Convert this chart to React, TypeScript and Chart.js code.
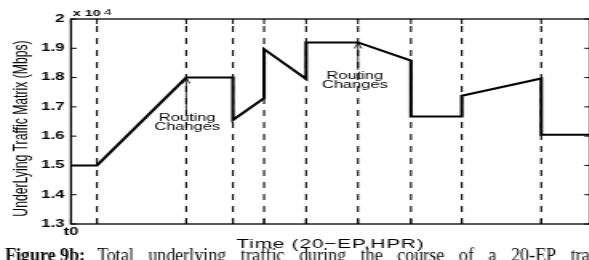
import React, { useEffect, useRef } from 'react';
import { Chart, registerables } from 'chart.js';

Chart.register(...registerables);

// The original figure is horizontally stretched; we draw it narrow and stretch it with CSS.
const STRETCH = 1.6;
const CANVAS_W = 372;
const CANVAS_H = 260;

// Times (arbitrary units, t0 = 0) at which events happen (dashed lines)
const eventTimes = [5.0, 22.2, 31.2, 37.2, 45.3, 55.3, 65.5, 75.3, 90.6];

// Underlying traffic matrix (x 10^4 Mbps)
const trafficTimes = [0, 5.0, 22.2, 31.2, 31.2, 37.2, 37.2, 45.3, 45.3, 55.3, 65.5, 65.5, 75.3, 75.3, 90.6, 90.6, 100];
const trafficValues = [1.5, 1.5, 1.8, 1.8, 1.655, 1.73, 1.897, 1.795, 1.92, 1.92, 1.858, 1.667, 1.667, 1.738, 1.797, 1.605, 1.605];

// "Routing Changes" annotations
const annotationTimes = [22.2, 55.3];
const annotationValues = [1.8, 1.92];
const annotationShaftEnds = [1.689, 1.826];
const annotationLine1Y = [1.652, 1.795];
const annotationLine2Y = [1.621, 1.764];
const annotationTextShift = [0.2, -0.6];
const annotationLines = ['Routing', 'Changes'];

const xMin = 0;
const xMax = 100;
const yMin = 1.3;
const yMax = 2.0;
const yStep = 0.1;

const xStartLabel = 't0';
const yTitle = 'UnderLying Traffic Matrix (Mbps)';
const xTitle = 'Time (20\u2212EP,HPR)';
const scaleBase = 'x 10';
const scaleExp = '4';
const captionBold = 'Figure 9b:';
const captionWords = ['Total', 'underlying', 'traffic', 'during', 'the', 'course', 'of', 'a', '20-EP', 'trace'];

const SANS = '"Liberation Sans", Arial, Helvetica, sans-serif';
const SERIF = '"Liberation Serif", "Times New Roman", serif';

const overlay = {
  id: 'overlay',
  afterDraw(chart: any) {
    const { ctx, chartArea: a, scales } = chart;
    const x = scales.x;
    const y = scales.y;
    const line = (x1: number, y1: number, x2: number, y2: number) => {
      ctx.beginPath();
      ctx.moveTo(x1, y1);
      ctx.lineTo(x2, y2);
      ctx.stroke();
    };
    ctx.save();
    ctx.strokeStyle = '#000';
    ctx.fillStyle = '#000';
    // box
    ctx.lineWidth = 1.3;
    ctx.strokeRect(a.left, a.top, a.right - a.left, a.bottom - a.top);
    // inward ticks
    ctx.lineWidth = 1;
    for (const t of y.ticks) {
      const py = y.getPixelForValue(t.value);
      line(a.left, py, a.left + 3.5, py);
      line(a.right, py, a.right - 3.5, py);
    }
    for (const t of x.ticks) {
      const px = x.getPixelForValue(t.value);
      line(px, a.bottom, px, a.bottom - 5);
      line(px, a.top, px, a.top + 5);
    }
    // t0 label under the axis start
    ctx.font = `bold 10.5px ${SANS}`;
    ctx.textAlign = 'center';
    ctx.textBaseline = 'top';
    ctx.fillText(xStartLabel, x.getPixelForValue(xMin), a.bottom + 2.5);
    // annotations
    ctx.lineWidth = 0.8;
    ctx.font = `10.3px ${SANS}`;
    ctx.textAlign = 'center';
    ctx.textBaseline = 'alphabetic';
    annotationTimes.forEach((t, i) => {
      const px = x.getPixelForValue(t);
      const tip = y.getPixelForValue(annotationValues[i]);
      const end = y.getPixelForValue(annotationShaftEnds[i]);
      line(px, tip, px, end);
      ctx.beginPath();
      ctx.moveTo(px - 2.2, tip + 6);
      ctx.lineTo(px, tip);
      ctx.lineTo(px + 2.2, tip + 6);
      ctx.stroke();
      const tx = x.getPixelForValue(t + annotationTextShift[i]);
      ctx.fillText(annotationLines[0], tx, y.getPixelForValue(annotationLine1Y[i]));
      ctx.fillText(annotationLines[1], tx, y.getPixelForValue(annotationLine2Y[i]));
    });
    // scale factor label
    ctx.textAlign = 'left';
    ctx.font = `bold 9px ${SANS}`;
    ctx.fillText(scaleBase, a.left + 1, 16);
    const w = ctx.measureText(scaleBase).width;
    ctx.font = `8.5px ${SANS}`;
    ctx.fillText(scaleExp, a.left + 1 + w + 2.2, 14.5);
    // x title
    ctx.textAlign = 'center';
    ctx.font = `13px ${SANS}`;
    (ctx as any).letterSpacing = '0.5px';
    ctx.fillText(xTitle, (a.left + a.right) / 2, 248);
    (ctx as any).letterSpacing = '0px';
    // y title
    ctx.save();
    ctx.translate(16.6, 128.5);
    ctx.rotate(-Math.PI / 2);
    ctx.font = `12.2px ${SANS}`;
    ctx.textAlign = 'center';
    ctx.fillText(yTitle, 0, 0);
    ctx.restore();
    // caption (not stretched), justified-looking word spacing
    ctx.save();
    ctx.scale(1 / STRETCH, 1);
    ctx.textAlign = 'left';
    ctx.font = `bold 18px ${SERIF}`;
    ctx.fillText(captionBold, 5, 260.5);
    ctx.font = `18px ${SERIF}`;
    let cx = 97;
    const gap = 14.6;
    for (const word of captionWords) {
      ctx.fillText(word, cx, 260.5);
      cx += ctx.measureText(word).width + gap;
    }
    ctx.restore();
    ctx.restore();
  },
};

export default function App() {
  const ref = useRef<HTMLCanvasElement | null>(null);
  useEffect(() => {
    if (!ref.current) return;
    const mainData = trafficTimes.map((t, i) => ({ x: t, y: trafficValues[i] }));
    const dashedSets = eventTimes.map((t) => ({
      label: 'event',
      data: [
        { x: t, y: yMin },
        { x: t, y: yMax },
      ],
      borderColor: '#000',
      borderWidth: 1.1,
      borderDash: [6, 6],
      pointRadius: 0,
      fill: false,
    }));
    const chart = new Chart(ref.current, {
      type: 'line',
      data: {
        datasets: [
          {
            label: 'traffic',
            data: mainData,
            borderColor: '#000',
            borderWidth: 2.1,
            pointRadius: 0,
            tension: 0,
            fill: false,
            borderJoinStyle: 'miter',
            borderCapStyle: 'butt',
          } as any,
          ...dashedSets,
        ],
      },
      options: {
        responsive: false,
        animation: false,
        events: [],
        layout: { padding: { left: 0, right: CANVAS_W - 368.75, top: 19, bottom: 16 } },
        plugins: { legend: { display: false }, tooltip: { enabled: false }, title: { display: false } },
        scales: {
          x: {
            type: 'linear',
            min: xMin,
            max: xMax,
            grid: { display: false, drawTicks: false },
            border: { display: false },
            afterBuildTicks: (s: any) => {
              s.ticks = [xMin, ...eventTimes].map((v) => ({ value: v }));
            },
            afterFit: (s: any) => {
              s.height = 20;
            },
            ticks: { display: false, autoSkip: false, maxRotation: 0 },
          },
          y: {
            type: 'linear',
            min: yMin,
            max: yMax,
            grid: { display: false, drawTicks: false },
            border: { display: false },
            afterFit: (s: any) => {
              s.width = 44.4;
            },
            ticks: {
              stepSize: yStep,
              padding: 4,
              color: '#000',
              font: { family: SANS, size: 10.5, weight: 'bold' },
              callback: (v: any) => (Math.abs(v - 2) < 1e-9 ? '2' : Number(v).toFixed(1)),
            },
          },
        },
      },
      plugins: [overlay],
    });
    return () => chart.destroy();
  }, []);
  return (
    <div
      style={{
        position: 'fixed',
        left: 0,
        top: 0,
        width: 589,
        height: 260,
        overflow: 'hidden',
        background: '#fff',
      }}
    >
      <canvas
        ref={ref}
        width={CANVAS_W}
        height={CANVAS_H}
        style={{
          position: 'absolute',
          left: 0,
          top: 0,
          transform: `scaleX(${STRETCH})`,
          transformOrigin: '0 0',
        }}
      />
    </div>
  );
}
